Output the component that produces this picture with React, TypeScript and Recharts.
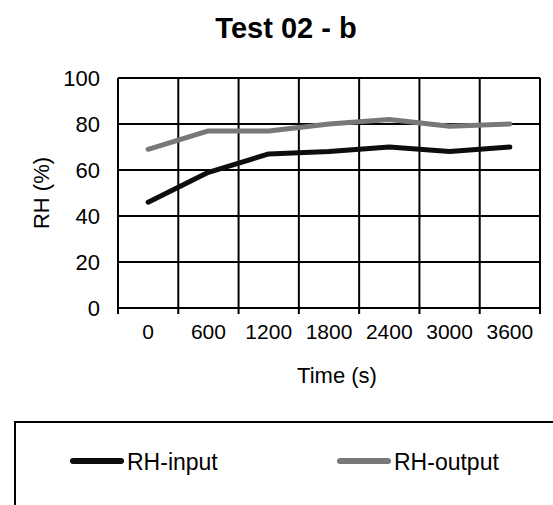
import React from 'react'
import { LineChart, Line, XAxis, YAxis, CartesianGrid } from 'recharts'

const TIMES = ['0', '600', '1200', '1800', '2400', '3000', '3600']
const RH_INPUT = [46, 59, 67, 68, 70, 68, 70]
const RH_OUTPUT = [69, 77, 77, 80, 82, 79, 80]
const Y_TICKS = [0, 20, 40, 60, 80, 100]

const SERIES = [
  { key: 'input', name: 'RH-input', color: '#0d0d0d' },
  { key: 'output', name: 'RH-output', color: '#787878' },
]

const FONT = '"Liberation Sans", Arial, sans-serif'

const data = TIMES.map((t, i) => ({
  idx: i,
  time: t,
  input: RH_INPUT[i],
  output: RH_OUTPUT[i],
}))

// category boundaries for grid lines / tick marks
const BOUNDS = [...TIMES.map((_, i) => i - 0.5), TIMES.length - 0.5]
const CENTERS = TIMES.map((_, i) => i)
const DOMAIN = [-0.5, TIMES.length - 0.5]

const gridX = (props: any) => {
  const { xAxis, offset } = props
  if (xAxis && typeof xAxis.scale === 'function') {
    return BOUNDS.map((b) => xAxis.scale(b))
  }
  const span = DOMAIN[1] - DOMAIN[0]
  return BOUNDS.map((b) => offset.left + ((b - DOMAIN[0]) / span) * offset.width)
}

export default function App() {
  return (
    <div style={{ position: 'absolute', left: 0, top: 0, width: 553, height: 505, background: '#fff', fontFamily: FONT, overflow: 'hidden' }}>
      <div
        style={{
          position: 'absolute', left: 186, top: 14, width: 200, textAlign: 'center',
          fontSize: 29, lineHeight: '29px', fontWeight: 'bold', color: '#000',
        }}
      >
        Test 02 - b
      </div>

      <LineChart
        width={553}
        height={505}
        data={data}
        margin={{ top: 78, right: 13, bottom: 111, left: 0 }}
        style={{ position: 'absolute', left: 0, top: 0, fontFamily: FONT }}
      >
        <CartesianGrid xAxisId="a" stroke="#000" strokeWidth={2} verticalCoordinatesGenerator={gridX} />
        <XAxis
          xAxisId="a"
          dataKey="idx"
          type="number"
          domain={DOMAIN}
          ticks={BOUNDS}
          height={6}
          tickFormatter={() => ''}
          tick={{ fontSize: 1 }}
          tickSize={6}
          axisLine={{ stroke: '#000', strokeWidth: 2 }}
          tickLine={{ stroke: '#000', strokeWidth: 2 }}
        />
        <XAxis
          xAxisId="b"
          dataKey="idx"
          type="number"
          domain={DOMAIN}
          ticks={CENTERS}
          tickFormatter={(v: number) => TIMES[v]}
          height={80}
          axisLine={false}
          tickLine={false}
          tickSize={0}
          tickMargin={10}
          tick={{ fill: '#000', fontSize: 21, fontFamily: FONT }}
          label={{ value: 'Time (s)', position: 'center', dx: 8, dy: 21, fill: '#000', fontSize: 22, fontFamily: FONT }}
        />
        <YAxis
          domain={[0, 100]}
          ticks={Y_TICKS}
          width={118}
          axisLine={false}
          tickLine={false}
          tickSize={0}
          tickMargin={18}
          tick={{ fill: '#000', fontSize: 22, fontFamily: FONT }}
          label={{ value: 'RH (%)', angle: -90, position: 'center', dx: -18, fill: '#000', fontSize: 22, fontFamily: FONT }}
        />
        {SERIES.map((s) => (
          <Line
            key={s.key}
            xAxisId="a"
            dataKey={s.key}
            name={s.name}
            type="linear"
            stroke={s.color}
            strokeWidth={5}
            strokeLinecap="round"
            strokeLinejoin="round"
            dot={false}
            activeDot={false}
            isAnimationActive={false}
          />
        ))}
      </LineChart>

      {/* legend box */}
      <div
        style={{
          position: 'absolute', left: 14, top: 421, width: 600, height: 120,
          borderTop: '2px solid #000', borderLeft: '2px solid #000',
        }}
      />
      {SERIES.map((s, i) => {
        const x = i === 0 ? 70 : 337
        return (
          <React.Fragment key={s.key}>
            <div
              style={{
                position: 'absolute', left: x, top: 458, width: 54, height: 6,
                background: s.color, borderRadius: 3,
              }}
            />
            <div
              style={{
                position: 'absolute', left: x + 57, top: 451, fontSize: 23,
                lineHeight: '23px', color: '#000', whiteSpace: 'nowrap',
              }}
            >
              {s.name}
            </div>
          </React.Fragment>
        )
      })}
    </div>
  )
}
